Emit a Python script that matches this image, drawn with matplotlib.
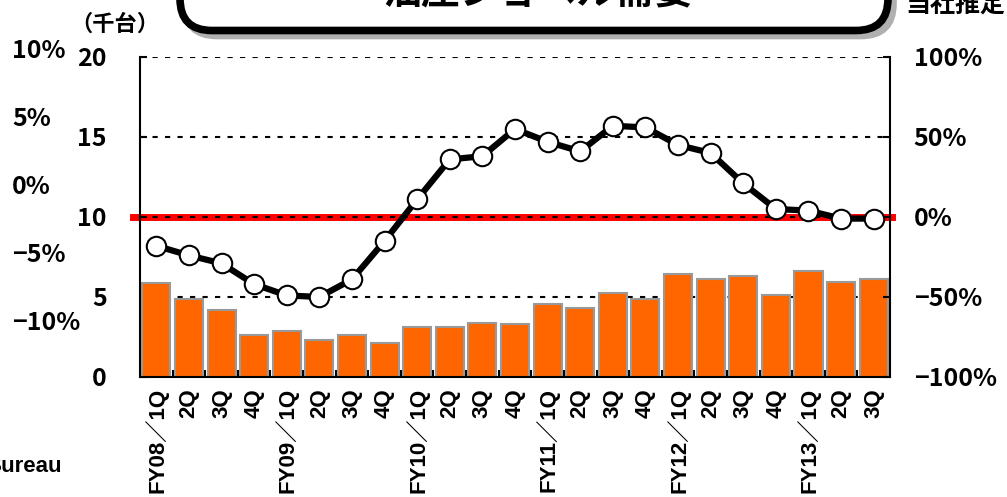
"""Hydraulic excavator demand chart: quarterly units (bars) and YoY change (line)."""
import matplotlib
matplotlib.use('Agg')
from matplotlib import pyplot as plt
from matplotlib.patches import FancyBboxPatch

plt.rcParams['font.family'] = ['Noto Sans CJK JP', 'DejaVu Sans']
plt.rcParams['font.weight'] = 'bold'

# Data.
quarters = ['FY08／1Q', '2Q', '3Q', '4Q',
            'FY09／1Q', '2Q', '3Q', '4Q',
            'FY10／1Q', '2Q', '3Q', '4Q',
            'FY11／1Q', '2Q', '3Q', '4Q',
            'FY12／1Q', '2Q', '3Q', '4Q',
            'FY13／1Q', '2Q', '3Q']
demand = [5.85, 4.9, 4.2, 2.6, 2.9, 2.3, 2.6, 2.1, 3.1, 3.1, 3.4, 3.3,
          4.55, 4.3, 5.25, 4.9, 6.45, 6.1, 6.3, 5.15, 6.65, 5.95, 6.15]
growth = [-18, -24, -29, -42, -49, -50, -39, -15, 11, 36, 38, 55,
          47, 41, 57, 56, 45, 40, 21, 5, 4, -1, -1]
left_ticks = [0, 5, 10, 15, 20]
right_ticks = [-100, -50, 0, 50, 100]
outer_ticks = [10, 5, 0, -5, -10]

TITLE = '油圧ショベル需要'
UNIT = '（千台）'
NOTE = '当社推定'
SOURCE = 'Bureau'


def pct_label(v):
    return ('−%d%%' % -v) if v < 0 else ('%d%%' % v)


def main():
    fig = plt.figure(figsize=(10.07, 4.97), dpi=100)
    W, H = 1007.0, 497.0

    # Main axes (bars)
    ax = fig.add_axes([140 / W, 1 - 377 / H, 750 / W, 320 / H])
    x = list(range(len(quarters)))
    ax.bar(x, demand, width=0.86, color='#FF6600', edgecolor='#999999',
           linewidth=1.5, zorder=2)
    ax.set_xlim(-0.5, len(quarters) - 0.5)
    ax.set_ylim(left_ticks[0], left_ticks[-1])
    ax.set_yticks(left_ticks)
    ax.set_yticklabels([str(v) for v in left_ticks], fontsize=18)
    ax.tick_params(axis='y', direction='in', length=5, width=1.5, pad=24)

    ax.set_xticks(x)
    ax.set_xticklabels(quarters, rotation=90, fontsize=16, va='top',
                       family=['Liberation Sans', 'Noto Sans CJK JP'])
    ax.tick_params(axis='x', which='major', length=0, pad=8)
    ax.set_xticks([i + 0.5 for i in x[:-1]], minor=True)
    ax.tick_params(axis='x', which='minor', direction='in', length=5, width=1.5)

    ax.set_axisbelow(True)
    ax.yaxis.grid(True, color='black', linestyle=(0, (2.5, 3.5)), linewidth=1.5)
    ax.axhline(10, xmin=-0.01, xmax=1.003, color='#FF0000', linewidth=5,
               zorder=0.4, clip_on=False)
    for side in ['top', 'right']:
        ax.spines[side].set_visible(False)
    for side in ['left', 'bottom']:
        ax.spines[side].set_linewidth(1.5)

    # Twin axes (growth line)
    ax2 = ax.twinx()
    ax2.plot(x, growth, color='black', linewidth=4.5, marker='o', markersize=14,
             markerfacecolor='white', markeredgecolor='black',
             markeredgewidth=1.5, zorder=5, clip_on=False)
    ax2.set_ylim(right_ticks[0], right_ticks[-1])
    ax2.set_yticks(right_ticks)
    ax2.set_yticklabels([pct_label(v) for v in right_ticks], fontsize=18)
    ax2.tick_params(axis='y', direction='in', length=5, width=1.5, pad=17)
    ax2.spines['top'].set_visible(False)
    ax2.spines['left'].set_visible(False)
    ax2.spines['bottom'].set_visible(False)
    ax2.spines['right'].set_linewidth(1.5)

    # Stray outer percent column on the far left
    ax3 = fig.add_axes([12 / W, 1 - 321 / H, 0.0001, 273 / H])
    ax3.set_ylim(outer_ticks[-1], outer_ticks[0])
    ax3.set_yticks(outer_ticks)
    ax3.set_yticklabels([pct_label(v) for v in outer_ticks], fontsize=18)
    ax3.yaxis.tick_right()
    ax3.tick_params(axis='y', length=0, pad=0)
    ax3.set_xticks([])
    for s in ax3.spines.values():
        s.set_visible(False)
    ax3.patch.set_visible(False)

    # Title box with shadow (mostly off the top edge)
    for dx, dy, col in [(0.05, -0.05, '#b0b0b0'), (0.0, 0.0, 'black')]:
        box = FancyBboxPatch((1.80 + dx, 4.665 + dy), 7.08, 1.0,
                             boxstyle='round,pad=0,rounding_size=0.32',
                             transform=fig.dpi_scale_trans, facecolor='white',
                             edgecolor=col, linewidth=5.5, clip_on=False)
        fig.add_artist(box)
    fig.text(538 / W, 1 - 12 / H, TITLE, fontsize=28, ha='center', va='bottom')

    fig.text(115 / W, 1 - 24 / H, UNIT, fontsize=16, ha='center', va='center')
    fig.text(1005 / W, 1 - 18 / H, NOTE, fontsize=18, ha='right', va='bottom')
    fig.text(62 / W, 1 - 467 / H, SOURCE, fontsize=16, ha='right', va='center',
             family=['Liberation Sans', 'DejaVu Sans'])

    fig.savefig('out.png', dpi=100)


if __name__ == '__main__':
    main()
